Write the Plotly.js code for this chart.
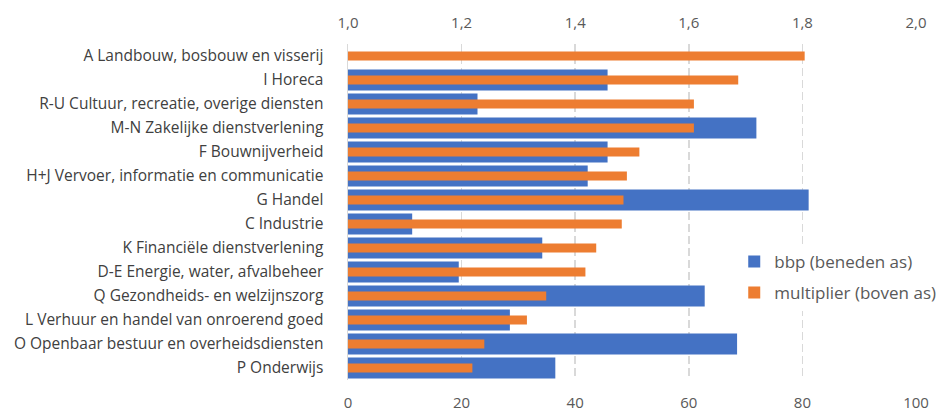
<!DOCTYPE html>
<html>
<head>
<meta charset="utf-8">
<script src="https://cdn.plot.ly/plotly-3.0.1.min.js"></script>
<style>
  html, body { margin: 0; padding: 0; background: #fff; }
  #plot { width: 944px; height: 411px; }
</style>
</head>
<body>
<div id="plot"></div>
<script>
// Sectors, top to bottom
const sectors = [
  'A Landbouw, bosbouw en visserij',
  'I Horeca',
  'R-U Cultuur, recreatie, overige diensten',
  'M-N Zakelijke dienstverlening',
  'F Bouwnijverheid',
  'H+J Vervoer, informatie en communicatie',
  'G Handel',
  'C Industrie',
  'K Financiële dienstverlening',
  'D-E Energie, water, afvalbeheer',
  'Q Gezondheids- en welzijnszorg',
  'L Verhuur en handel van onroerend goed',
  'O Openbaar bestuur en overheidsdiensten',
  'P Onderwijs'
];

// bbp (bottom axis)
const bbp = [0, 45.7, 22.8, 71.9, 45.7, 42.2, 81.1, 11.3, 34.2, 19.5, 62.8, 28.5, 68.5, 36.5];

// multiplier (top axis)
const multiplier = [1.804, 1.687, 1.609, 1.609, 1.513, 1.491, 1.485, 1.482, 1.437, 1.418, 1.349, 1.315, 1.240, 1.219];

const bottomTicks = [0, 20, 40, 60, 80, 100];
const topTicks = [1.0, 1.2, 1.4, 1.6, 1.8, 2.0];

const blue = '#4472C4';
const orange = '#ED7D31';
const gray = '#595959';

const traces = [
  {
    type: 'bar',
    orientation: 'h',
    name: 'bbp (beneden as)',
    y: sectors,
    x: bbp,
    xaxis: 'x',
    yaxis: 'y',
    width: 0.88,
    marker: { color: blue, line: { width: 0 } },
    legendgroup: 'a',
    hoverinfo: 'x+y'
  },
  {
    type: 'bar',
    orientation: 'h',
    name: 'multiplier (boven as)',
    y: sectors,
    // multiplier bars start from 1.0, so pass the length above the base
    x: multiplier.map(v => v - 1),
    base: 1,
    xaxis: 'x2',
    yaxis: 'y',
    width: 0.38,
    marker: { color: orange, line: { width: 0 } },
    legendgroup: 'b',
    hoverinfo: 'x+y'
  }
];

const layout = {
  width: 944,
  height: 411,
  margin: { l: 348, r: 28, t: 44, b: 31, autoexpand: false },
  paper_bgcolor: '#fff',
  plot_bgcolor: '#fff',
  separators: ',.',
  barmode: 'overlay',
  font: { family: 'Open Sans, sans-serif', color: gray },
  showlegend: true,
  legend: {
    x: 0.68, xanchor: 'left',
    y: 0.405, yanchor: 'top',
    bgcolor: '#fff',
    font: { size: 17, color: gray },
    traceorder: 'grouped',
    tracegroupgap: 6,
    itemclick: false
  },
  xaxis: {
    range: [0, 100],
    tickvals: bottomTicks,
    side: 'bottom',
    showgrid: true,
    gridcolor: '#d9d9d9',
    gridwidth: 1.5,
    griddash: '8px,4px',
    zeroline: false,
    showline: false,
    ticks: '',
    ticklabelstandoff: 12,
    tickfont: { size: 15, color: gray },
    automargin: false,
    fixedrange: true
  },
  xaxis2: {
    range: [1, 2],
    tickvals: topTicks,
    tickformat: '.1f',
    overlaying: 'x',
    side: 'top',
    showgrid: false,
    zeroline: false,
    showline: false,
    ticks: '',
    ticklabelstandoff: 12,
    tickfont: { size: 15, color: gray },
    automargin: false,
    fixedrange: true
  },
  yaxis: {
    autorange: 'reversed',
    showgrid: false,
    zeroline: false,
    showline: true,
    linecolor: '#d9d9d9',
    linewidth: 1.5,
    ticks: '',
    ticklabelstandoff: 20,
    tickfont: { size: 15.5, color: '#404040' },
    automargin: false,
    fixedrange: true
  }
};

Plotly.newPlot('plot', traces, layout, { displayModeBar: false, staticPlot: true });
</script>
</body>
</html>
